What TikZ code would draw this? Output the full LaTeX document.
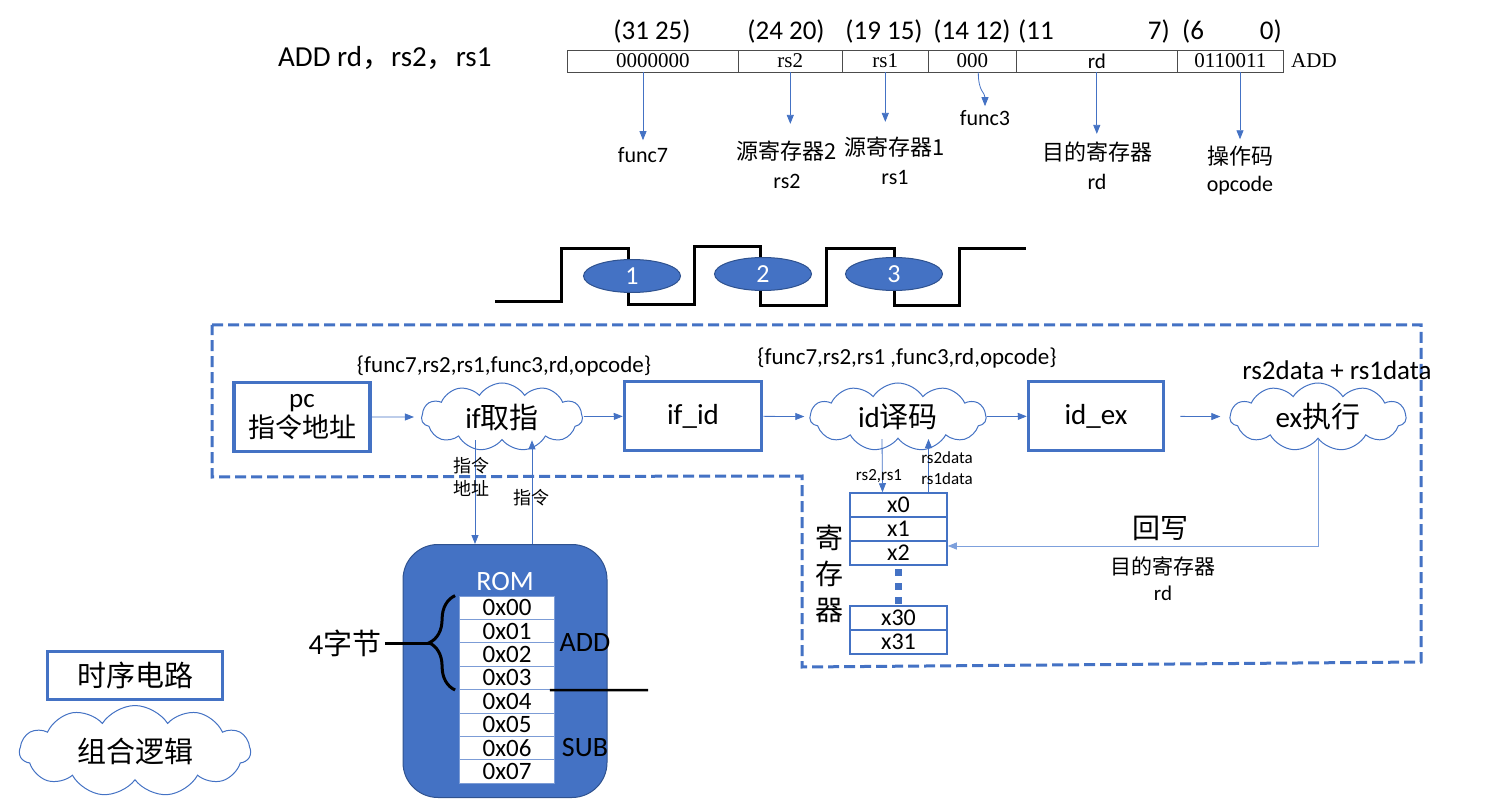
\documentclass[tikz,border=0pt]{standalone}
\usepackage{fontspec}
\setmainfont{Carlito}
\newfontfamily\cjk{Noto Sans CJK SC}
\newfontfamily\serif{Liberation Serif}
\usetikzlibrary{arrows.meta,positioning,shapes.symbols,shapes.geometric,decorations.pathreplacing}

\definecolor{officeblue}{HTML}{4472C4}
\definecolor{darkblue}{HTML}{2F528F}
\definecolor{lineblue}{HTML}{7DA0DC}

\newcommand\fsz[1]{\fontsize{#1}{#1}\selectfont}

\tikzset{
  arr/.style={draw=officeblue, line width=0.8pt, -{Triangle[length=9pt,width=7pt]}},
  seqbox/.style={draw=officeblue, line width=3.5pt, minimum width=136, minimum height=69, inner sep=0, font=\fsz{29}},
  logic/.style={cloud, cloud puffs=11, cloud puff arc=115, aspect=2.4, draw=officeblue, line width=1pt, fill=white, inner sep=0, font=\fsz{29}},
  field/.style={draw=black!70, line width=0.6pt, minimum height=22, inner sep=0, anchor=west, font=\fsz{21}},
  bitlbl/.style={font=\fsz{27}, inner sep=0},
  lbl/.style={font=\fontsize{22}{29}\selectfont, align=center, inner sep=1pt},
  regcell/.style={draw=officeblue, line width=1.5pt, minimum width=97, minimum height=24, inner sep=0, font=\fsz{24}},
  romcell/.style={draw=officeblue!70, fill=white, line width=0.8pt, minimum width=95, minimum height=23.4, inner sep=0, font=\fsz{25}},
  stage/.style={ellipse, fill=officeblue, draw=darkblue, line width=1pt, minimum width=97, minimum height=33, inner sep=0, text=white, font=\fsz{26}},
  small/.style={font=\fsz{17}, inner sep=1pt},
}

\begin{document}
\begin{tikzpicture}[x=1pt, y=-1pt]
\useasboundingbox (0,0) rectangle (1494,799);

% Instruction format
\node[font=\fsz{29}, anchor=west, inner sep=0] (instr) at (278,58) {ADD rd{\cjk ，}rs2{\cjk ，}rs1};

\foreach \l/\r/\t/\n in {567/738/{\serif 0000000}/f1, 738/842/{\serif rs2}/f2,
    842/928/{\serif rs1}/f3, 928/1016/{\serif 000}/f4, 1016/1177/rd/f5,
    1177/1283/{\serif 0110011}/f6}
  \node[field, minimum width={\r-\l}] (\n) at (\l,61) {\t};
\node[font=\serif\fsz{21}, anchor=west, inner sep=0] (fmt) at (1291,61) {ADD};

% Bit ranges
\node[bitlbl] (b1) at (652,32) {(31 25)};
\node[bitlbl] (b2) at (786,32) {(24 20)};
\node[bitlbl] (b3) at (884,32) {(19 15)};
\node[bitlbl] (b4) at (972,32) {(14 12)};
\node[bitlbl, anchor=west] (b5a) at (1018,32) {(11};
\node[bitlbl, anchor=east] (b5b) at (1170,32) {7)};
\node[bitlbl, anchor=west] (b6a) at (1182,32) {(6};
\node[bitlbl, anchor=east] (b6b) at (1282,32) {0)};

% Field names
\node[lbl] (lf7) at (643,155) {func7};
\node[lbl] (lrs2) at (787,165) {{\cjk 源寄存器2}\\rs2};
\node[lbl] (lrs1) at (895,161) {{\cjk 源寄存器1}\\rs1};
\node[lbl] (lf3) at (985,118) {func3};
\node[lbl] (lrd) at (1097,166) {{\cjk 目的寄存器}\\rd};
\node[lbl, font=\fontsize{22}{27}\selectfont] (lop) at (1240,171) {{\cjk 操作码}\\opcode};

\draw[arr] (f1.south -| lf7) -- ([yshift=6pt]lf7.north);
\draw[arr] (f2.south) -- ([yshift=16pt]f2.south |- lrs2.north);
\draw[arr] (f3.south) -- ([yshift=14pt]f3.south |- lrs1.north);
\draw[arr] ([xshift=6pt]f4.south) .. controls +(0,20) and +(0,-14) .. ([yshift=3pt]lf3.north);
\draw[arr] (f5.south) -- ([yshift=7pt]f5.south |- lrd.north);
\draw[arr] (f6.south -| lop) -- ([yshift=6pt]lop.north);

% Clock
\draw[line width=3pt] (495,302) -| (561,249) -| (628,305) -| (694,247) -| (760,306)
    -| (826,249) -| (894,306) -| (959,249) -- (1026,249);
\foreach \x/\y/\k in {632/276/1, 763/274/2, 894/274/3}
  \node[stage] (clk\k) at (\x,\y) {\k};

% Pipeline boundary
\draw[officeblue, line width=3pt, dash pattern=on 11pt off 5pt]
    (212,325) -- (1421,325) -- (1421,662) -- (802,667) -- (802,476) -- (212,477) -- cycle;

% Pipeline stages
\node[seqbox, align=center, font=\fontsize{27}{30}\selectfont] (pc) at (302,417) {pc\\{\cjk 指令地址}};
\node[logic, minimum width=161, minimum height=68] (ifc) at (502,417) {if{\cjk 取指}};
\node[seqbox, minimum width=137] (ifid) at (693,416) {if\_id};
\node[logic, minimum width=176, minimum height=68] (idc) at (898,417) {id{\cjk 译码}};
\node[seqbox, minimum width=135] (idex) at (1096,416) {id\_ex};
\node[logic, minimum width=176, minimum height=68] (exc) at (1318,417) {ex{\cjk 执行}};

\node[font=\fsz{23}, inner sep=0] (ifout) at (504,366) {\{func7,rs2,rs1,func3,rd,opcode\}};
\node[font=\fsz{23}, inner sep=0] (idin) at (907,358) {\{func7,rs2,rs1 ,func3,rd,opcode\}};
\node[font=\fsz{27}, inner sep=0] (exop) at (1337,370) {rs2data + rs1data};

\draw[arr, shorten >=7pt] (pc) -- (ifc);
\draw[arr, shorten <=1pt] (ifc) -- (ifid);
\draw[arr, shorten >=5pt] (ifid) -- (idc);
\draw[arr] (idc) -- (idex);
\draw[arr, shorten <=15pt, shorten >=9pt] (idex) -- (exc);

% ROM
\node[draw=darkblue, fill=officeblue, line width=1pt, rounded corners=35pt,
      minimum width=204, minimum height=253, inner sep=0] (rom) at (505,671) {};
\node[text=white, font=\fsz{28}] (romt) at (505,582) {ROM};
\foreach \i in {0,...,7}
  \node[romcell] (m\i) at (507,{607.7+23.4*\i}) {0x0\i};
\node[font=\fsz{28}] (addl) at (585,643) {ADD};
\node[font=\fsz{28}] (subl) at (585,748) {SUB};
\coordinate (cut) at (648,690);
\draw[line width=2.5pt] ([xshift=-5pt]m3.south east) -- (cut);
\draw[line width=3pt, decorate, decoration={brace, amplitude=26pt}]
    ([xshift=-4pt]m3.south west) -- ([xshift=-4pt]m0.north west);
\coordinate (bracetip) at (430,643);
\node[font=\fsz{29}] (bytes) at (345,643) {4{\cjk 字节}};
\draw[line width=3pt] (bytes.east) -- (bracetip);

\draw[arr] ([xshift=-27pt]ifc.south) -- ([xshift=-27pt]ifc.south |- rom.north);
\draw[arr] ([xshift=27pt]rom.north) -- ([xshift=27pt]rom.north |- ifc.south);
\node[font=\cjk\fontsize{18}{23}\selectfont, align=center, inner sep=0] (addrl) at (471,477) {指令\\地址};
\node[font=\cjk\fsz{18}, inner sep=0] (instl) at (531,498) {指令};

% Register file
\foreach \r/\y in {0/505, 1/529, 2/553, 30/618, 31/642}
  \node[regcell] (x\r) at (898.5,\y) {x\r};
\draw[officeblue, line width=7pt, dash pattern=on 7pt off 7pt, dash phase=10.5pt] (x2.south) -- (x30.north);
\node[font=\cjk\fontsize{28}{36}\selectfont, align=center, inner sep=0] (regl) at (829,574) {寄\\存\\器};

\draw[arr] ([xshift=-16pt]idc.south) -- ([xshift=-16pt]x0.north);
\draw[arr] ([xshift=30pt]x0.north) -- ([xshift=30pt]x0.north |- idc.south);
\node[small] (selrs) at (879,476) {rs2,rs1};
\node[small, align=center, font=\fontsize{17}{21}\selectfont] (rdata) at (947,468) {rs2data\\rs1data};

% Write back
\draw[arr, draw=lineblue] (exc.south) |- ([yshift=7pt]x2.east);
\node[font=\fsz{28}] (wbl) at (1160,528) {\cjk 回写};
\node[lbl, font=\fontsize{21}{26}\selectfont] (wbrd) at (1163,579) {{\cjk 目的寄存器}\\rd};

% Legend
\node[seqbox, line width=3pt, minimum width=175, minimum height=48] (lgseq) at (135,675) {\cjk 时序电路};
\node[logic, minimum width=231, minimum height=64] (lglogic) at (135,751) {\cjk 组合逻辑};

\end{tikzpicture}
\end{document}
